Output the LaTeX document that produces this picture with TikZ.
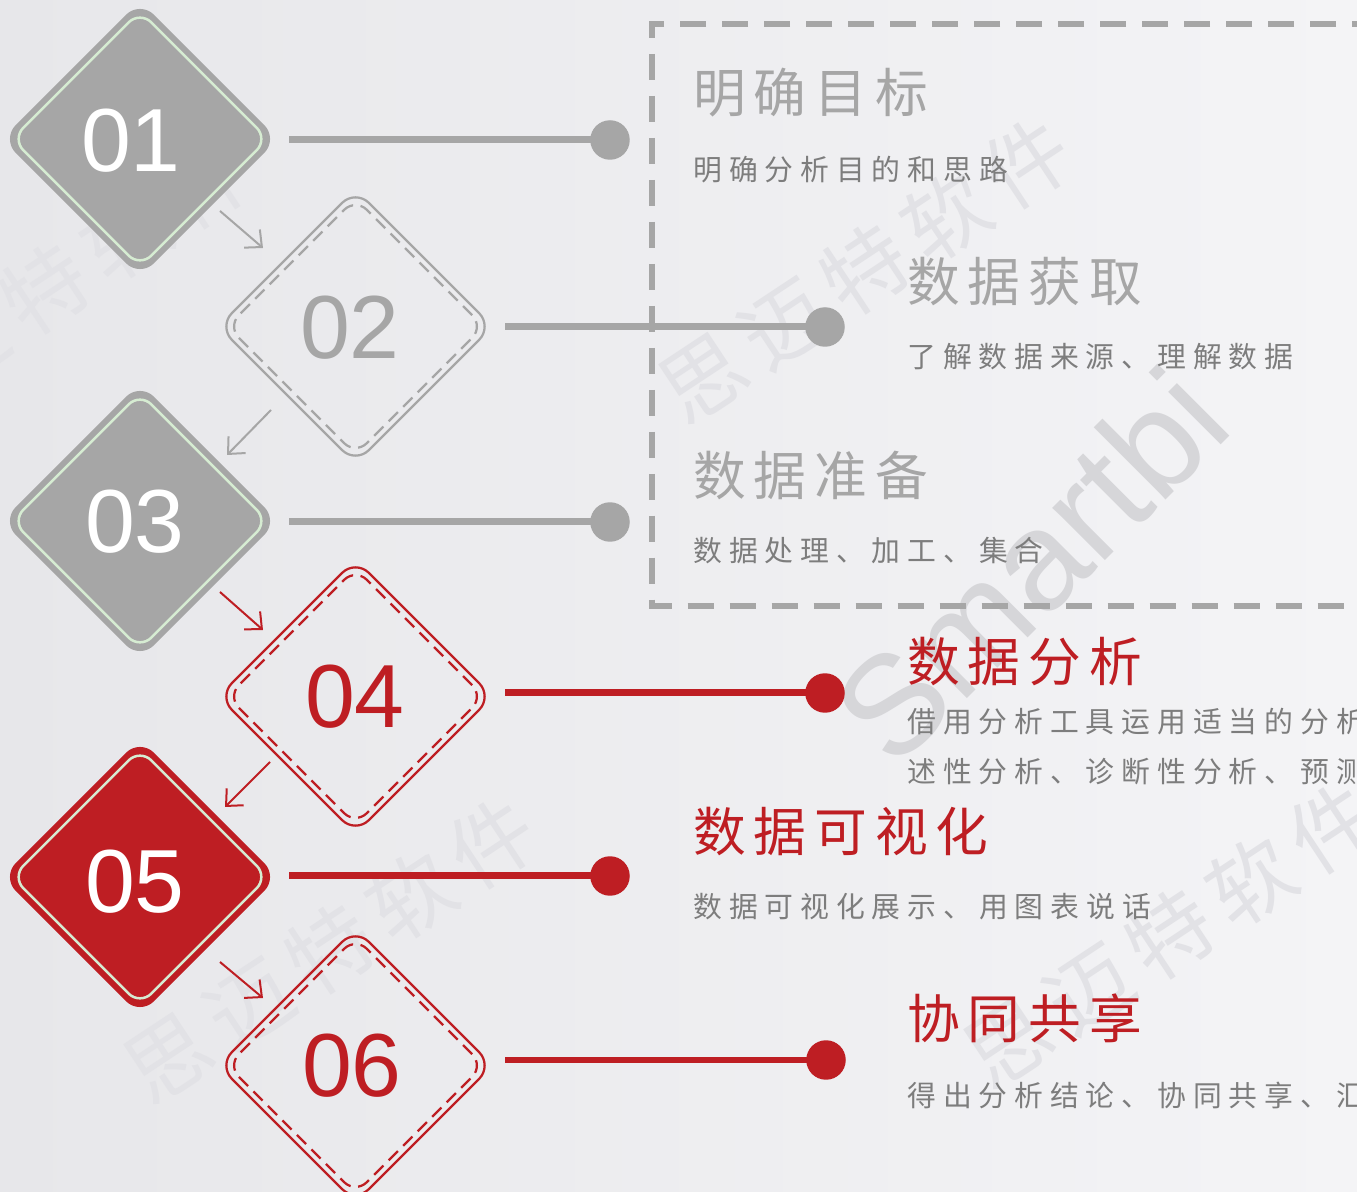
\documentclass[tikz,border=0pt]{standalone}
\usepackage{fontspec}
\setmainfont{Liberation Sans}
\newfontfamily\cjk{Noto Sans CJK SC}
\newfontfamily\cjktitle[LetterSpace=15]{Noto Sans CJK SC}
\newfontfamily\cjksub[LetterSpace=24]{Noto Sans CJK SC}
\newfontfamily\cjkwm[LetterSpace=15]{Noto Sans CJK SC}
\usetikzlibrary{shapes.geometric,arrows.meta}
\definecolor{mgray}{RGB}{166,166,166}
\definecolor{mred}{RGB}{190,30,35}
\definecolor{mgreen}{RGB}{214,236,210}
\definecolor{tgray}{RGB}{125,125,125}
\definecolor{bgl}{RGB}{231,231,234}
\definecolor{bgr}{RGB}{244,244,246}
\definecolor{wmA}{RGB}{214,214,217}
\definecolor{wmB}{RGB}{226,226,230}
\tikzset{
  dfill/.style={diamond, aspect=1, minimum width=55mm, minimum height=55mm, inner sep=0pt, rounded corners=3.8mm, fill=#1, draw=#1, line width=0.3mm},
  dline/.style={diamond, aspect=1, minimum width=51.4mm, minimum height=51.4mm, inner sep=0pt, rounded corners=3.2mm, draw=#1, line width=0.5mm},
  dout/.style={diamond, aspect=1, minimum width=55mm, minimum height=55mm, inner sep=0pt, rounded corners=3.8mm, draw=#1, line width=0.45mm},
  ddash/.style={diamond, aspect=1, minimum width=51.4mm, minimum height=51.4mm, inner sep=0pt, rounded corners=3.2mm, draw=#1, line width=0.45mm, dash pattern=on 2.6mm off 1.5mm},
  num/.style={inner sep=0pt, text=#1, font=\fontsize{51pt}{51pt}\selectfont},
  conn/.style={draw=#1, line width=1.4mm, shorten <=2.2mm},
  dot/.style={circle, fill=#1, minimum size=7.9mm, inner sep=0pt},
  arr/.style={draw=#1, line width=0.4mm, -{Straight Barb[length=2.6mm,width=4.8mm]}},
  ttl/.style={anchor=west, inner sep=0pt, text=#1, font=\cjktitle\fontsize{30pt}{36pt}\selectfont},
  sub/.style={anchor=west, inner sep=0pt, text=tgray, font=\cjksub\fontsize{16.4pt}{20pt}\selectfont},
  boxdash/.style={draw=mgray, line width=1.2mm, dash pattern=on 5.2mm off 3.2mm},
  wmtext/.style={inner sep=0pt, text=wmB, rotate=33.5, font=\cjkwm\fontsize{48pt}{50pt}\selectfont}
}
\begin{document}
\begin{tikzpicture}[x=0.02cm, y=-0.02cm]
\useasboundingbox (0,0) rectangle (1357,1192);
\clip (0,0) rectangle (1357,1192);
\shade[left color=bgl, right color=bgr] (0,0) rectangle (1357,1192);

% watermarks
\node[wmtext] (w1) at (865,270) {思迈特软件};
\node[wmtext] (w2) at (330,950) {思迈特软件};
\node[wmtext] (w3) at (1170,935) {思迈特软件};
\node[wmtext] (w4) at (45,290) {思迈特软件};
\node[inner sep=0pt, text=wmA, rotate=45, font=\fontsize{80pt}{80pt}\selectfont] (w5) at (1030,565) {Smartbi};

% dashed frame
\draw[boxdash] (1420,24) -- (652,24) -- (652,606) -- (1420,606);

% diamonds
\node[dfill=mgray] (d1) at (140,139) {};
\node[dline=mgreen] (d1i) at (140,139) {};
\node[num=white] (n1) at (131,141) {01};

\node[dout=mgray] (d2) at (355.5,326.5) {};
\node[ddash=mgray] (d2i) at (355.5,326.5) {};
\node[num=mgray] (n2) at (350,328) {02};

\node[dfill=mgray] (d3) at (140,521) {};
\node[dline=mgreen] (d3i) at (140,521) {};
\node[num=white] (n3) at (135,522) {03};

\node[dout=mred] (d4) at (355.5,696.5) {};
\node[ddash=mred] (d4i) at (355.5,696.5) {};
\node[num=mred] (n4) at (355,697) {04};

\node[dfill=mred] (d5) at (140,877) {};
\node[dline=mgreen] (d5i) at (140,877) {};
\node[num=white] (n5) at (135,882) {05};

\node[dout=mred] (d6) at (355.5,1065.5) {};
\node[ddash=mred] (d6i) at (355.5,1065.5) {};
\node[num=mred] (n6) at (352,1066) {06};

% dots and connectors
\node[dot=mgray] (p1) at (610,140) {};
\node[dot=mgray] (p2) at (825,327) {};
\node[dot=mgray] (p3) at (610,522) {};
\node[dot=mred] (p4) at (825,693) {};
\node[dot=mred] (p5) at (610,876) {};
\node[dot=mred] (p6) at (826,1060) {};
\draw[conn=mgray] (d1.east |- p1) -- (p1.center);
\draw[conn=mgray] (d2.east |- p2) -- (p2.center);
\draw[conn=mgray] (d3.east |- p3) -- (p3.center);
\draw[conn=mred] (d4.east |- p4) -- (p4.center);
\draw[conn=mred] (d5.east |- p5) -- (p5.center);
\draw[conn=mred] (d6.east |- p6) -- (p6.center);

% small arrows between diamonds
\coordinate (a1s) at (220,211); \coordinate (a1e) at (263,248);
\coordinate (a2s) at (271,410); \coordinate (a2e) at (227,455);
\coordinate (a3s) at (220,592); \coordinate (a3e) at (263,630);
\coordinate (a4s) at (270,762); \coordinate (a4e) at (225,807);
\coordinate (a5s) at (220,962); \coordinate (a5e) at (263,998);
\draw[arr=mgray] (a1s) -- (a1e);
\draw[arr=mgray] (a2s) -- (a2e);
\draw[arr=mred] (a3s) -- (a3e);
\draw[arr=mred] (a4s) -- (a4e);
\draw[arr=mred] (a5s) -- (a5e);

% texts
\node[ttl=mgray] (t1) at (693,93) {明确目标};
\node[sub] (s1) at (693,170) {明确分析目的和思路};
\node[ttl=mgray] (t2) at (907,282) {数据获取};
\node[sub] (s2) at (907,357) {了解数据来源、理解数据};
\node[ttl=mgray] (t3) at (693,475) {数据准备};
\node[sub] (s3) at (693,551) {数据处理、加工、集合};
\node[ttl=mred] (t4) at (907,662) {数据分析};
\node[sub] (s4a) at (907,722) {借用分析工具运用适当的分析};
\node[sub] (s4b) at (907,772) {述性分析、诊断性分析、预测};
\node[ttl=mred] (t5) at (693,832) {数据可视化};
\node[sub] (s5) at (693,907) {数据可视化展示、用图表说话};
\node[ttl=mred] (t6) at (907,1018) {协同共享};
\node[sub] (s6) at (907,1095) {得出分析结论、协同共享、汇};
\end{tikzpicture}
\end{document}
